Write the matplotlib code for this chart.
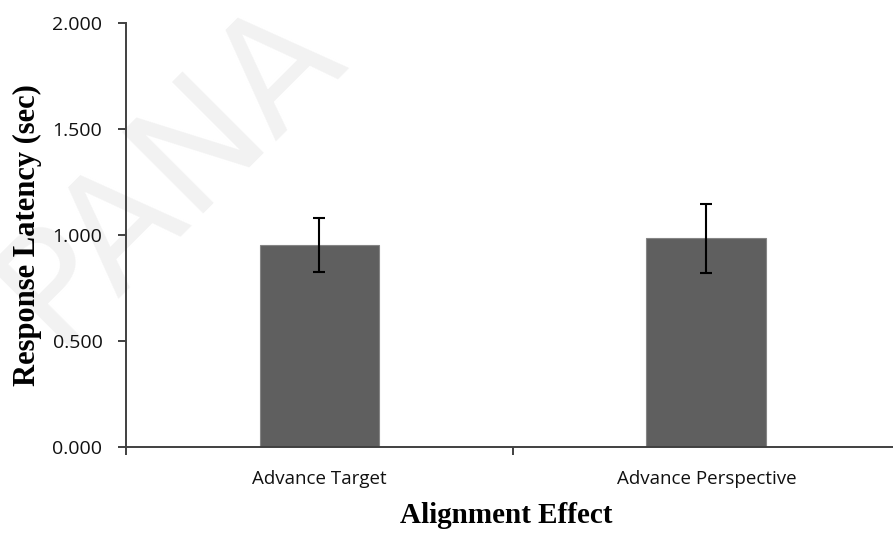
import matplotlib

matplotlib.use("Agg")
import matplotlib.pyplot as plt
from matplotlib.ticker import FixedLocator, FormatStrFormatter, NullFormatter

# mean response latency per alignment condition, with error bar half-widths
conditions = ["Advance Target", "Advance Perspective"]
latency = [0.951, 0.984]
latency_err = [0.127, 0.164]
y_ticks = [0.0, 0.5, 1.0, 1.5, 2.0]

BAR_COLOR = "#5f5f5f"
AXIS_COLOR = "#404040"

plt.rcParams["font.family"] = ["Open Sans", "DejaVu Sans"]

fig = plt.figure(figsize=(8.93, 5.33), dpi=100)
ax = fig.add_axes([0.1411, 0.1614, 0.8667, 0.7955])
ax.set_facecolor("none")

# faint diagonal watermark behind everything
fig.text(0.19, 0.68, "PANA", rotation=45, fontsize=112, color="#f2f2f2",
         family="DejaVu Sans", fontweight="normal", ha="center", va="center",
         zorder=-5)

centers = [i + 0.5 for i in range(len(conditions))]
ax.bar(centers, latency, width=0.31, color=BAR_COLOR, edgecolor="#858585",
       linewidth=0.8, zorder=2)
ax.errorbar(centers, latency, yerr=latency_err, fmt="none", ecolor="black",
            elinewidth=1.5, capsize=4.5, capthick=1.5, zorder=3)

ax.set_xlim(0, len(conditions))
ax.set_ylim(y_ticks[0], y_ticks[-1])

for side in ("top", "right"):
    ax.spines[side].set_visible(False)
for side in ("left", "bottom"):
    ax.spines[side].set_color(AXIS_COLOR)
    ax.spines[side].set_linewidth(1.4)

ax.set_yticks(y_ticks)
ax.yaxis.set_major_formatter(FormatStrFormatter("%.3f"))

# category boundaries get tick marks, centres get the labels
ax.xaxis.set_major_locator(FixedLocator(range(len(conditions) + 1)))
ax.xaxis.set_major_formatter(NullFormatter())
ax.xaxis.set_minor_locator(FixedLocator(centers))
ax.set_xticklabels(conditions, minor=True)

ax.tick_params(axis="y", which="major", direction="out", length=6,
               width=1.4, color=AXIS_COLOR, pad=11, labelsize=14,
               labelcolor="#111111")
ax.tick_params(axis="x", which="major", direction="out", length=6,
               width=1.4, color=AXIS_COLOR)
ax.tick_params(axis="x", which="minor", length=0, pad=16.5, labelsize=13.5,
               labelcolor="#111111")

ax.set_ylabel("Response Latency (sec)", family="Liberation Serif",
              fontweight="bold", fontsize=22)
ax.yaxis.set_label_coords(-0.108, 0.5)
ax.set_xlabel("Alignment Effect", family="Liberation Serif",
              fontweight="bold", fontsize=21)
ax.xaxis.set_label_coords(0.491, -0.13)

fig.savefig("out.png", dpi=100)
